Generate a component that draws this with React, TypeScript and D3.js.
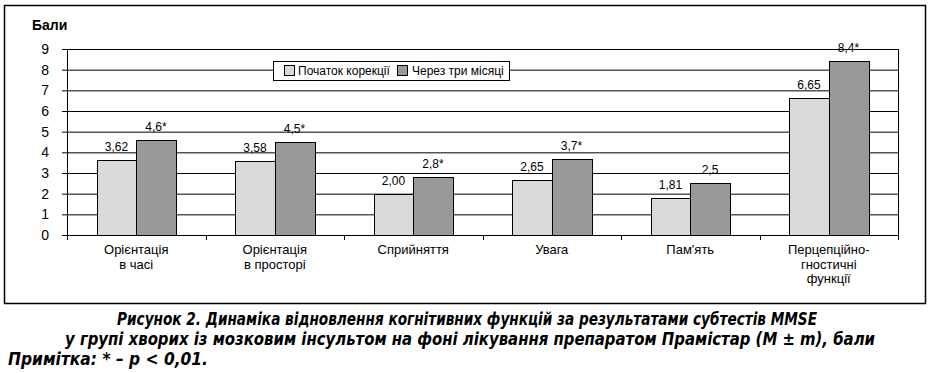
import React from 'react';
import * as d3 from 'd3';

const categories = [
  ['Орієнтація', 'в часі'],
  ['Орієнтація', 'в просторі'],
  ['Сприйняття'],
  ['Увага'],
  ["Пам'ять"],
  ['Перцепційно-', 'гностичні', 'функції'],
];
const seriesNames = ['Початок корекції', 'Через три місяці'];
const before = [3.62, 3.58, 2.0, 2.65, 1.81, 6.65];
const after = [4.6, 4.5, 2.8, 3.7, 2.5, 8.4];
const beforeLabels = ['3,62', '3,58', '2,00', '2,65', '1,81', '6,65'];
const afterLabels = ['4,6*', '4,5*', '2,8*', '3,7*', '2,5', '8,4*'];
const yTicks = [0, 1, 2, 3, 4, 5, 6, 7, 8, 9];
const colors = ['#d9d9d9', '#999999'];

const font = 'Arial, "Liberation Sans", sans-serif';
const captionFont = '"Liberation Sans Narrow", "DejaVu Sans Condensed", Arial, sans-serif';

export default function App() {
  const width = 934;
  const height = 373;
  const left = 67, right = 898, top = 49, bottom = 235;

  const x = d3.scaleBand<number>()
    .domain(d3.range(categories.length))
    .range([left, right]);
  const xs = d3.scaleBand<number>()
    .domain([0, 1])
    .range([0, x.bandwidth()])
    .paddingOuter(0.75);
  const y = d3.scaleLinear().domain([0, 9]).range([bottom, top]);

  const series = [before, after];
  const labels = [beforeLabels, afterLabels];

  return (
    <svg width={width} height={height} style={{ position: 'absolute', left: 0, top: 0, background: '#fff' }}
      fontFamily={font}>
      <rect x={4.5} y={5.5} width={921} height={298} fill="none" stroke="#000" strokeWidth={1.5} />
      <text x={32} y={30} fontSize={14} fontWeight="bold">Бали</text>

      {yTicks.map(t => (
        <g key={t}>
          <line x1={62} x2={t === 0 ? left : right} y1={y(t) + 0.5} y2={y(t) + 0.5} stroke="#000" />
          <text x={49} y={y(t) + 5} fontSize={14} textAnchor="end">{t}</text>
        </g>
      ))}
      <line x1={right + 0.5} x2={right + 0.5} y1={top} y2={bottom} stroke="#000" />
      <line x1={left + 0.5} x2={left + 0.5} y1={top} y2={bottom + 5} stroke="#000" />
      <line x1={left} x2={right + 1} y1={bottom + 0.5} y2={bottom + 0.5} stroke="#000" />
      {d3.range(categories.length + 1).map(i => {
        const tx = Math.round(left + i * x.step()) + 0.5;
        return <line key={i} x1={tx} x2={tx} y1={bottom} y2={bottom + 5} stroke="#000" />;
      })}

      {categories.map((c, i) => (
        <g key={i}>
          {series.map((s, k) => {
            const bx = (x(i) as number) + (xs(k) as number);
            return (
              <g key={k}>
                <rect x={Math.round(bx) + 0.5} y={Math.round(y(s[i])) + 0.5}
                  width={Math.round(xs.bandwidth())} height={Math.round(bottom - y(s[i]))}
                  fill={colors[k]} stroke="#000" />
                <text x={bx + xs.bandwidth() / 2} y={y(s[i]) - 9} fontSize={12} textAnchor="middle">
                  {labels[k][i]}
                </text>
              </g>
            );
          })}
          {c.map((line, j) => (
            <text key={j} x={(x(i) as number) + x.bandwidth() / 2} y={254 + j * 14.5}
              fontSize={13} textAnchor="middle">{line}</text>
          ))}
        </g>
      ))}

      <g>
        <rect x={273.5} y={61.5} width={236} height={19} fill="#fff" stroke="#000" />
        <rect x={284.5} y={65.5} width={10} height={10} fill={colors[0]} stroke="#000" />
        <text x={298} y={75} fontSize={12}>{seriesNames[0]}</text>
        <rect x={397.5} y={65.5} width={10} height={10} fill={colors[1]} stroke="#000" />
        <text x={412} y={75} fontSize={12}>{seriesNames[1]}</text>
      </g>

      <g fontFamily={captionFont} fontWeight="bold" fontStyle="italic" fontSize={17}>
        <text x={467} y={325} textAnchor="middle" textLength={700} lengthAdjust="spacingAndGlyphs">
          Рисунок 2. Динаміка відновлення когнітивних функцій за результатами субтестів MMSE
        </text>
        <text x={470} y={345} textAnchor="middle" textLength={810} lengthAdjust="spacingAndGlyphs">
          у групі хворих із мозковим інсультом на фоні лікування препаратом Прамістар (M ± m), бали
        </text>
        <text x={8} y={365} textLength={200} lengthAdjust="spacingAndGlyphs">Примітка: * – p &lt; 0,01.</text>
      </g>
    </svg>
  );
}
